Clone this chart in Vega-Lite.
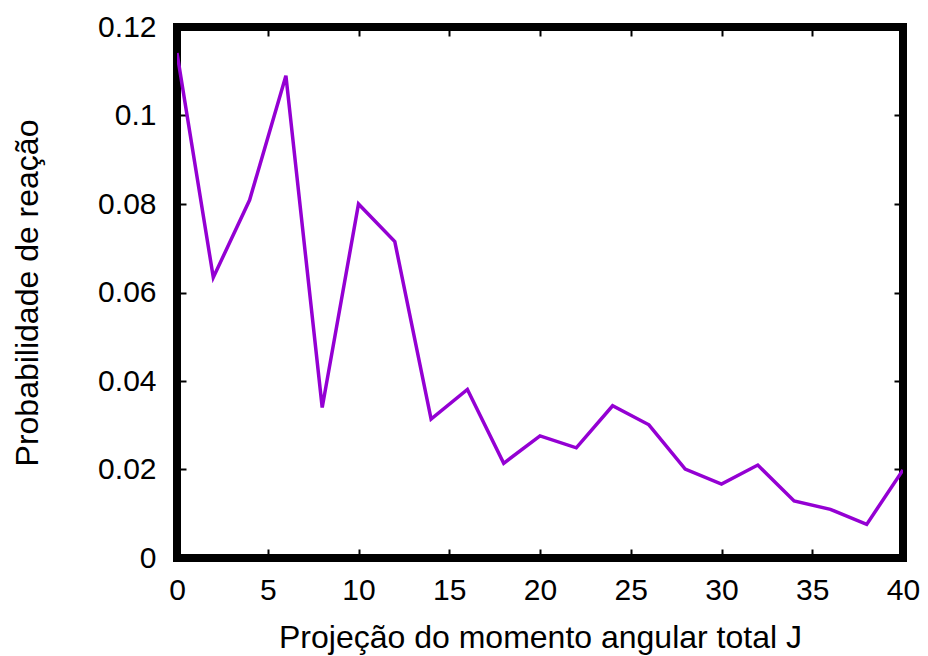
{
  "$schema": "https://vega.github.io/schema/vega-lite/v6.json",
  "autosize": {"type": "none"},
  "padding": {"left": 177, "top": 27, "right": 25, "bottom": 98},
  "width": 726,
  "height": 531,
  "background": "white",
  "config": {
    "view": {"stroke": "black", "strokeWidth": 8},
    "font": "Liberation Sans",
    "axis": {
      "domain": false,
      "grid": false,
      "ticks": true,
      "tickColor": "black",
      "tickWidth": 2,
      "tickSize": -9,
      "labelFont": "Liberation Sans",
      "labelFontSize": 30,
      "labelColor": "black",
      "titleFont": "Liberation Sans",
      "titleFontSize": 32,
      "titleFontWeight": "normal",
      "titleColor": "black"
    }
  },
  "data": {
    "values": [
      {"J": 0, "P": 0.1141},
      {"J": 2, "P": 0.0634},
      {"J": 4, "P": 0.0809},
      {"J": 6, "P": 0.109},
      {"J": 8, "P": 0.034},
      {"J": 10, "P": 0.08},
      {"J": 12, "P": 0.0715},
      {"J": 14, "P": 0.0314},
      {"J": 16, "P": 0.0381},
      {"J": 18, "P": 0.0214},
      {"J": 20, "P": 0.0276},
      {"J": 22, "P": 0.0249},
      {"J": 24, "P": 0.0344},
      {"J": 26, "P": 0.0301},
      {"J": 28, "P": 0.0201},
      {"J": 30, "P": 0.0167},
      {"J": 32, "P": 0.021},
      {"J": 34, "P": 0.0129},
      {"J": 36, "P": 0.011},
      {"J": 38, "P": 0.0076},
      {"J": 40, "P": 0.0199}
    ]
  },
  "layer": [
    {
      "mark": {"type": "line", "color": "#9400D3", "strokeWidth": 3.5, "clip": true},
      "encoding": {
        "x": {
          "field": "J", "type": "quantitative",
          "scale": {"domain": [0, 40], "nice": false, "zero": false},
          "axis": {"orient": "bottom", "values": [0, 5, 10, 15, 20, 25, 30, 35, 40], "labelPadding": 26, "title": "Projeção do momento angular total J", "titlePadding": 17, "labelFlush": false}
        },
        "y": {
          "field": "P", "type": "quantitative",
          "scale": {"domain": [0, 0.12], "nice": false},
          "axis": {"orient": "left", "values": [0, 0.02, 0.04, 0.06, 0.08, 0.1, 0.12], "labelPadding": 30, "title": "Probabilidade de reação", "titlePadding": 53, "labelFlush": false, "labelExpr": "datum.value == 0 ? '0' : format(datum.value, '.2~f')"}
        }
      }
    },
    {
      "mark": {"type": "line", "opacity": 0},
      "encoding": {
        "x": {
          "field": "J", "type": "quantitative",
          "axis": {"orient": "top", "values": [0, 5, 10, 15, 20, 25, 30, 35, 40], "labels": false, "title": null}
        },
        "y": {
          "field": "P", "type": "quantitative",
          "axis": {"orient": "right", "values": [0, 0.02, 0.04, 0.06, 0.08, 0.1, 0.12], "labels": false, "title": null}
        }
      }
    }
  ],
  "resolve": {"axis": {"x": "independent", "y": "independent"}}
}
